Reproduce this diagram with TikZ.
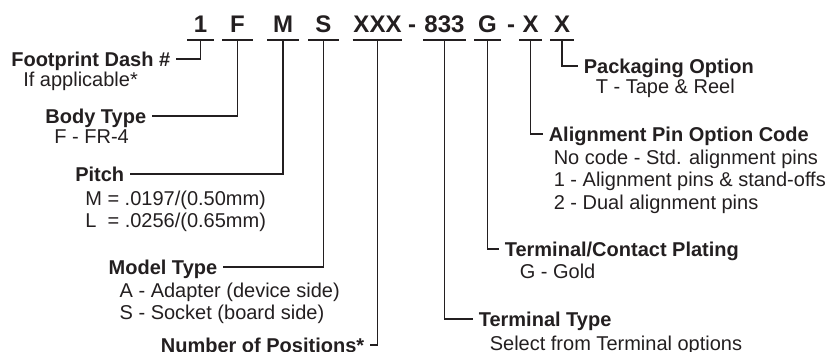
\documentclass[tikz,border=0pt]{standalone}
\usepackage{fontspec}
\setmainfont{Liberation Sans}
\usepackage{tikz}
\usetikzlibrary{positioning}
\definecolor{ink}{HTML}{231F20}

\begin{document}
\begin{tikzpicture}[
  x=1pt, y=-1pt,
  color=ink, line width=1.6pt,
  code/.style={font=\fontsize{24}{24}\selectfont\bfseries, anchor=base,
               text depth=0pt, inner xsep=0pt, inner ysep=6pt,
               minimum width=#1},
  code/.default=0pt,
  lbl/.style={font=\fontsize{20}{22}\selectfont\bfseries,
              text height=14.3pt, text depth=0pt,
              inner ysep=0pt, inner xsep=5pt},
  desc/.style={font=\fontsize{20}{22.5}\selectfont, align=left,
               anchor=base west, inner sep=0pt},
  lead/.style={line width=1.6pt, line join=miter}
]
  \useasboundingbox (0,0) rectangle (835,352);

  % part number
  \node[code=25pt] (c1) at (200.5,33) {1};
  \node[code=29pt] (cF) at (237.5,33) {F};
  \node[code=30pt] (cM) at (283,33) {M};
  \node[code=29pt] (cS) at (323.5,33) {S};
  \node[code=47pt] (cN) at (377.5,33) {XXX};
  \node[code] (d1) at (412,33) {-};
  \node[code=41pt] (cT) at (444.5,33) {833};
  \node[code=25pt] (cG) at (487.5,33) {G};
  \node[code] (d2) at (511,33) {-};
  \node[code=21pt] (cA) at (530.5,33) {X};
  \node[code=22pt] (cP) at (562,33) {X};

  \foreach \n in {c1,cF,cM,cS,cN,cT,cG,cA,cP}
    \draw[lead] (\n.south west) -- (\n.south east);

  % left side (base of a multi-line desc is its last line)
  \node[lbl, anchor=east] (foot) at (176,59) {Footprint Dash \#};
  \node[desc] (footd) at ([shift={(17pt,-20pt)}]foot.base west)
    {If applicable*};

  \node[lbl, anchor=east] (body) at (152,116) {Body Type};
  \node[desc] (bodyd) at ([shift={(14pt,-20pt)}]body.base west)
    {F - FR-4};

  \node[lbl, anchor=east] (pitch) at (130,174) {Pitch};
  \node[desc] (pitchd) at ([shift={(15pt,-46.5pt)}]pitch.base west)
    {M = .0197/(0.50mm)\\L\ \ = .0256/(0.65mm)};

  \node[lbl, anchor=east] (model) at (223,267) {Model Type};
  \node[desc] (modeld) at ([shift={(16pt,-45.5pt)}]model.base west)
    {A - Adapter (device side)\\S - Socket (board side)};

  \node[lbl, anchor=east] (npos) at (370,345) {Number of Positions*};

  % right side
  \node[lbl, anchor=west] (pack) at (578,66) {Packaging Option};
  \node[desc] (packd) at ([shift={(17pt,-20pt)}]pack.base west)
    {T - Tape \& Reel};

  \node[lbl, anchor=west] (align) at (543,134) {Alignment Pin Option Code};
  \node[desc] (alignd) at ([shift={(10pt,-68pt)}]align.base west)
    {No code - Std. alignment pins\\1 - Alignment pins \& stand-offs\\2 - Dual alignment pins};

  \node[lbl, anchor=west] (plat) at (499,249) {Terminal/Contact Plating};
  \node[desc] (platd) at ([shift={(20pt,-22pt)}]plat.base west)
    {G - Gold};

  \node[lbl, anchor=west] (ttype) at (473,319) {Terminal Type};
  \node[desc] (ttyped) at ([shift={(16pt,-24pt)}]ttype.base west)
    {Select from Terminal options};

  % leaders
  \draw[lead] (c1.south) |- (foot.east);
  \draw[lead] (cF.south) |- (body.east);
  \draw[lead] (cM.south) |- (pitch.east);
  \draw[lead] (cS.south) |- (model.east);
  \draw[lead] (cN.south) |- (npos.east);
  \draw[lead] (cT.south) |- (ttype.west);
  \draw[lead] (cG.south) |- (plat.west);
  \draw[lead] (cA.south) |- (align.west);
  \draw[lead] (cP.south) |- (pack.west);
\end{tikzpicture}
\end{document}
